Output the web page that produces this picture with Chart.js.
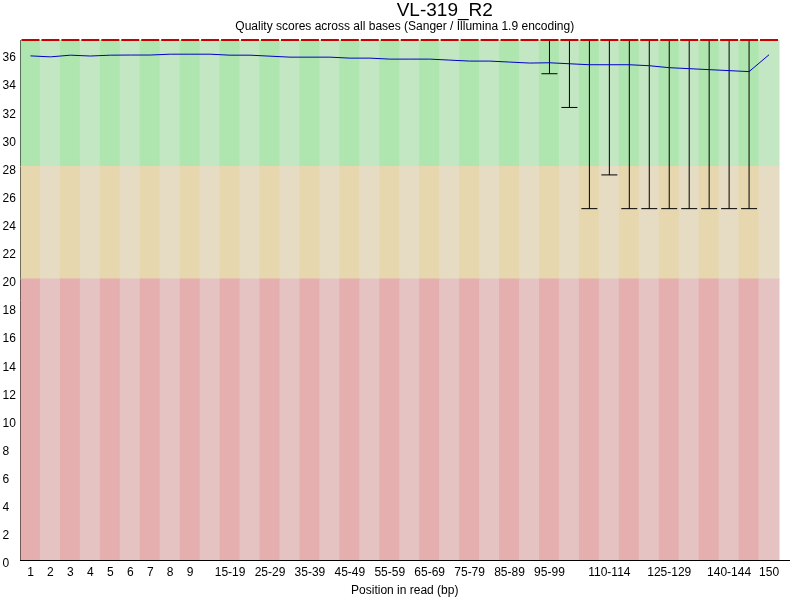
<!DOCTYPE html>
<html>
<head>
<meta charset="utf-8">
<script src="https://cdn.jsdelivr.net/npm/chart.js@4/dist/chart.umd.min.js"></script>
<style>
  html, body { margin: 0; padding: 0; background: #ffffff; }
  #wrap { width: 800px; height: 600px; }
  canvas { display: block; }
</style>
</head>
<body>
<div id="wrap"><canvas id="c" width="800" height="600"></canvas></div>
<script>
// ---- data ----
const chartTitle = 'VL-319_R2';
const chartSubtitle = 'Quality scores across all bases (Sanger / Illumina 1.9 encoding)';
const xAxisTitle = 'Position in read (bp)';

const categories = ['1','2','3','4','5','6','7','8','9','10-14','15-19','20-24','25-29','30-34','35-39','40-44','45-49','50-54','55-59','60-64','65-69','70-74','75-79','80-84','85-89','90-94','95-99','100-104','105-109','110-114','115-119','120-124','125-129','130-134','135-139','140-144','145-149','150'];
const shownLabels = ['1','2','3','4','5','6','7','8','9','15-19','25-29','35-39','45-49','55-59','65-69','75-79','85-89','95-99','110-114','125-129','140-144','150'];
const yTicks = [0,2,4,6,8,10,12,14,16,18,20,22,24,26,28,30,32,34,36];

const meanQ = [35.87,35.80,35.92,35.86,35.92,35.93,35.93,35.99,35.99,35.99,35.92,35.92,35.85,35.78,35.78,35.78,35.71,35.71,35.64,35.64,35.64,35.57,35.50,35.50,35.43,35.36,35.38,35.31,35.24,35.24,35.24,35.17,35.03,34.96,34.89,34.82,34.75,35.95];
const medianQ = [37,37,37,37,37,37,37,37,37,37,37,37,37,37,37,37,37,37,37,37,37,37,37,37,37,37,37,37,37,37,37,37,37,37,37,37,37,37];
const lower10 = [37,37,37,37,37,37,37,37,37,37,37,37,37,37,37,37,37,37,37,37,37,37,37,37,37,37,34.6,32.2,25,27.4,25,25,25,25,25,25,25,37];
const upper90 = [37,37,37,37,37,37,37,37,37,37,37,37,37,37,37,37,37,37,37,37,37,37,37,37,37,37,37,37,37,37,37,37,37,37,37,37,37,37];

const yMax = 37;
const bandEdges = [0, 20, 28, 37];   // poor | reasonable | good

// ---- styles ----
const FONT = "'Liberation Sans', Arial, sans-serif";
const bandColors = [
  ['rgb(230,175,175)', 'rgb(230,195,195)'],   // poor: dark, light
  ['rgb(230,215,175)', 'rgb(230,220,195)'],   // reasonable
  ['rgb(175,230,175)', 'rgb(195,230,195)']    // good
];

const idx = categories.map((_, i) => i);

const bandDatasets = [0,1,2].map(b => ({
  type: 'bar',
  data: idx.map(i => ({ x: i, y: [bandEdges[b], bandEdges[b+1]] })),
  backgroundColor: idx.map(i => bandColors[b][i % 2]),
  borderWidth: 0,
  inflateAmount: 0.5,
  barPercentage: 1,
  categoryPercentage: 1,
  grouped: false,
  order: 10
}));

const whiskerDataset = {
  type: 'bar',
  data: idx.map(i => ({ x: i, y: [lower10[i], upper90[i]] })),
  backgroundColor: '#000000',
  borderWidth: 0,
  inflateAmount: 0,
  barThickness: 1,
  grouped: false,
  order: 6
};

const capDataset = {
  type: 'line',
  data: idx.map(i => ({ x: i, y: lower10[i] })),
  showLine: false,
  pointStyle: 'line',
  pointRadius: 8,
  pointBorderWidth: 1,
  pointBorderColor: '#000000',
  pointBackgroundColor: '#000000',
  clip: false,
  order: 5
};

const meanDataset = {
  type: 'line',
  data: idx.map(i => ({ x: i, y: meanQ[i] })),
  borderColor: 'rgb(0,0,200)',
  borderWidth: 1,
  pointRadius: 0,
  tension: 0,
  fill: false,
  clip: false,
  order: 2
};

const medianDataset = {
  type: 'line',
  data: idx.map(i => ({ x: i, y: medianQ[i] })),
  showLine: false,
  pointStyle: 'line',
  pointRadius: 9,
  pointBorderWidth: 2,
  pointBorderColor: 'rgb(200,0,0)',
  pointBackgroundColor: 'rgb(200,0,0)',
  clip: false,
  order: 1
};

// main title, drawn as text above the subtitle, offset to the right like the reference
const mainTitlePlugin = {
  id: 'mainTitle',
  afterDraw(chart) {
    const { ctx, chartArea } = chart;
    ctx.save();
    ctx.font = "19px " + FONT;
    ctx.fillStyle = '#000000';
    ctx.textAlign = 'center';
    ctx.textBaseline = 'alphabetic';
    ctx.fillText(chartTitle, (chartArea.left + chartArea.right) / 2 + 40, 16);
    ctx.restore();
  }
};

new Chart(document.getElementById('c'), {
  type: 'bar',
  data: { datasets: [...bandDatasets, whiskerDataset, capDataset, meanDataset, medianDataset] },
  plugins: [mainTitlePlugin],
  options: {
    responsive: false,
    animation: false,
    devicePixelRatio: 1,
    layout: { padding: { left: 2.5, right: 9.5, top: 22, bottom: 0 } },
    plugins: {
      legend: { display: false },
      tooltip: { enabled: false },
      title: { display: false },
      subtitle: {
        display: true, text: chartSubtitle, color: '#000000', fullSize: false,
        font: { family: FONT, size: 12, weight: 'normal', lineHeight: 1.0 },
        padding: { top: -1, bottom: 7 }
      }
    },
    scales: {
      x: {
        type: 'linear',
        min: -0.5,
        max: categories.length,
        offset: false,
        grid: { display: false, drawTicks: false },
        border: { display: true, color: '#000000', width: 1 },
        afterBuildTicks: (scale) => {
          scale.ticks = shownLabels.map(l => ({ value: categories.indexOf(l) }));
        },
        afterFit: (scale) => { scale.height = 40; },
        ticks: {
          autoSkip: false, maxRotation: 0, minRotation: 0,
          padding: 5, color: '#000000',
          font: { family: FONT, size: 12 },
          callback: (v) => categories[v]
        },
        title: {
          display: true, text: xAxisTitle, color: '#000000',
          font: { family: FONT, size: 12 },
          padding: { top: 0, bottom: 2 }
        }
      },
      y: {
        type: 'linear',
        min: 0,
        max: yMax,
        grid: { display: false, drawTicks: false },
        border: { display: true, color: '#000000', width: 1 },
        afterBuildTicks: (scale) => {
          scale.ticks = yTicks.map(v => ({ value: v }));
        },
        afterFit: (scale) => { scale.width = 18; },
        ticks: {
          crossAlign: 'far', padding: 0, labelOffset: 4, color: '#000000',
          font: { family: FONT, size: 12 },
          callback: (v) => String(v)
        }
      }
    }
  }
});
</script>
</body>
</html>
